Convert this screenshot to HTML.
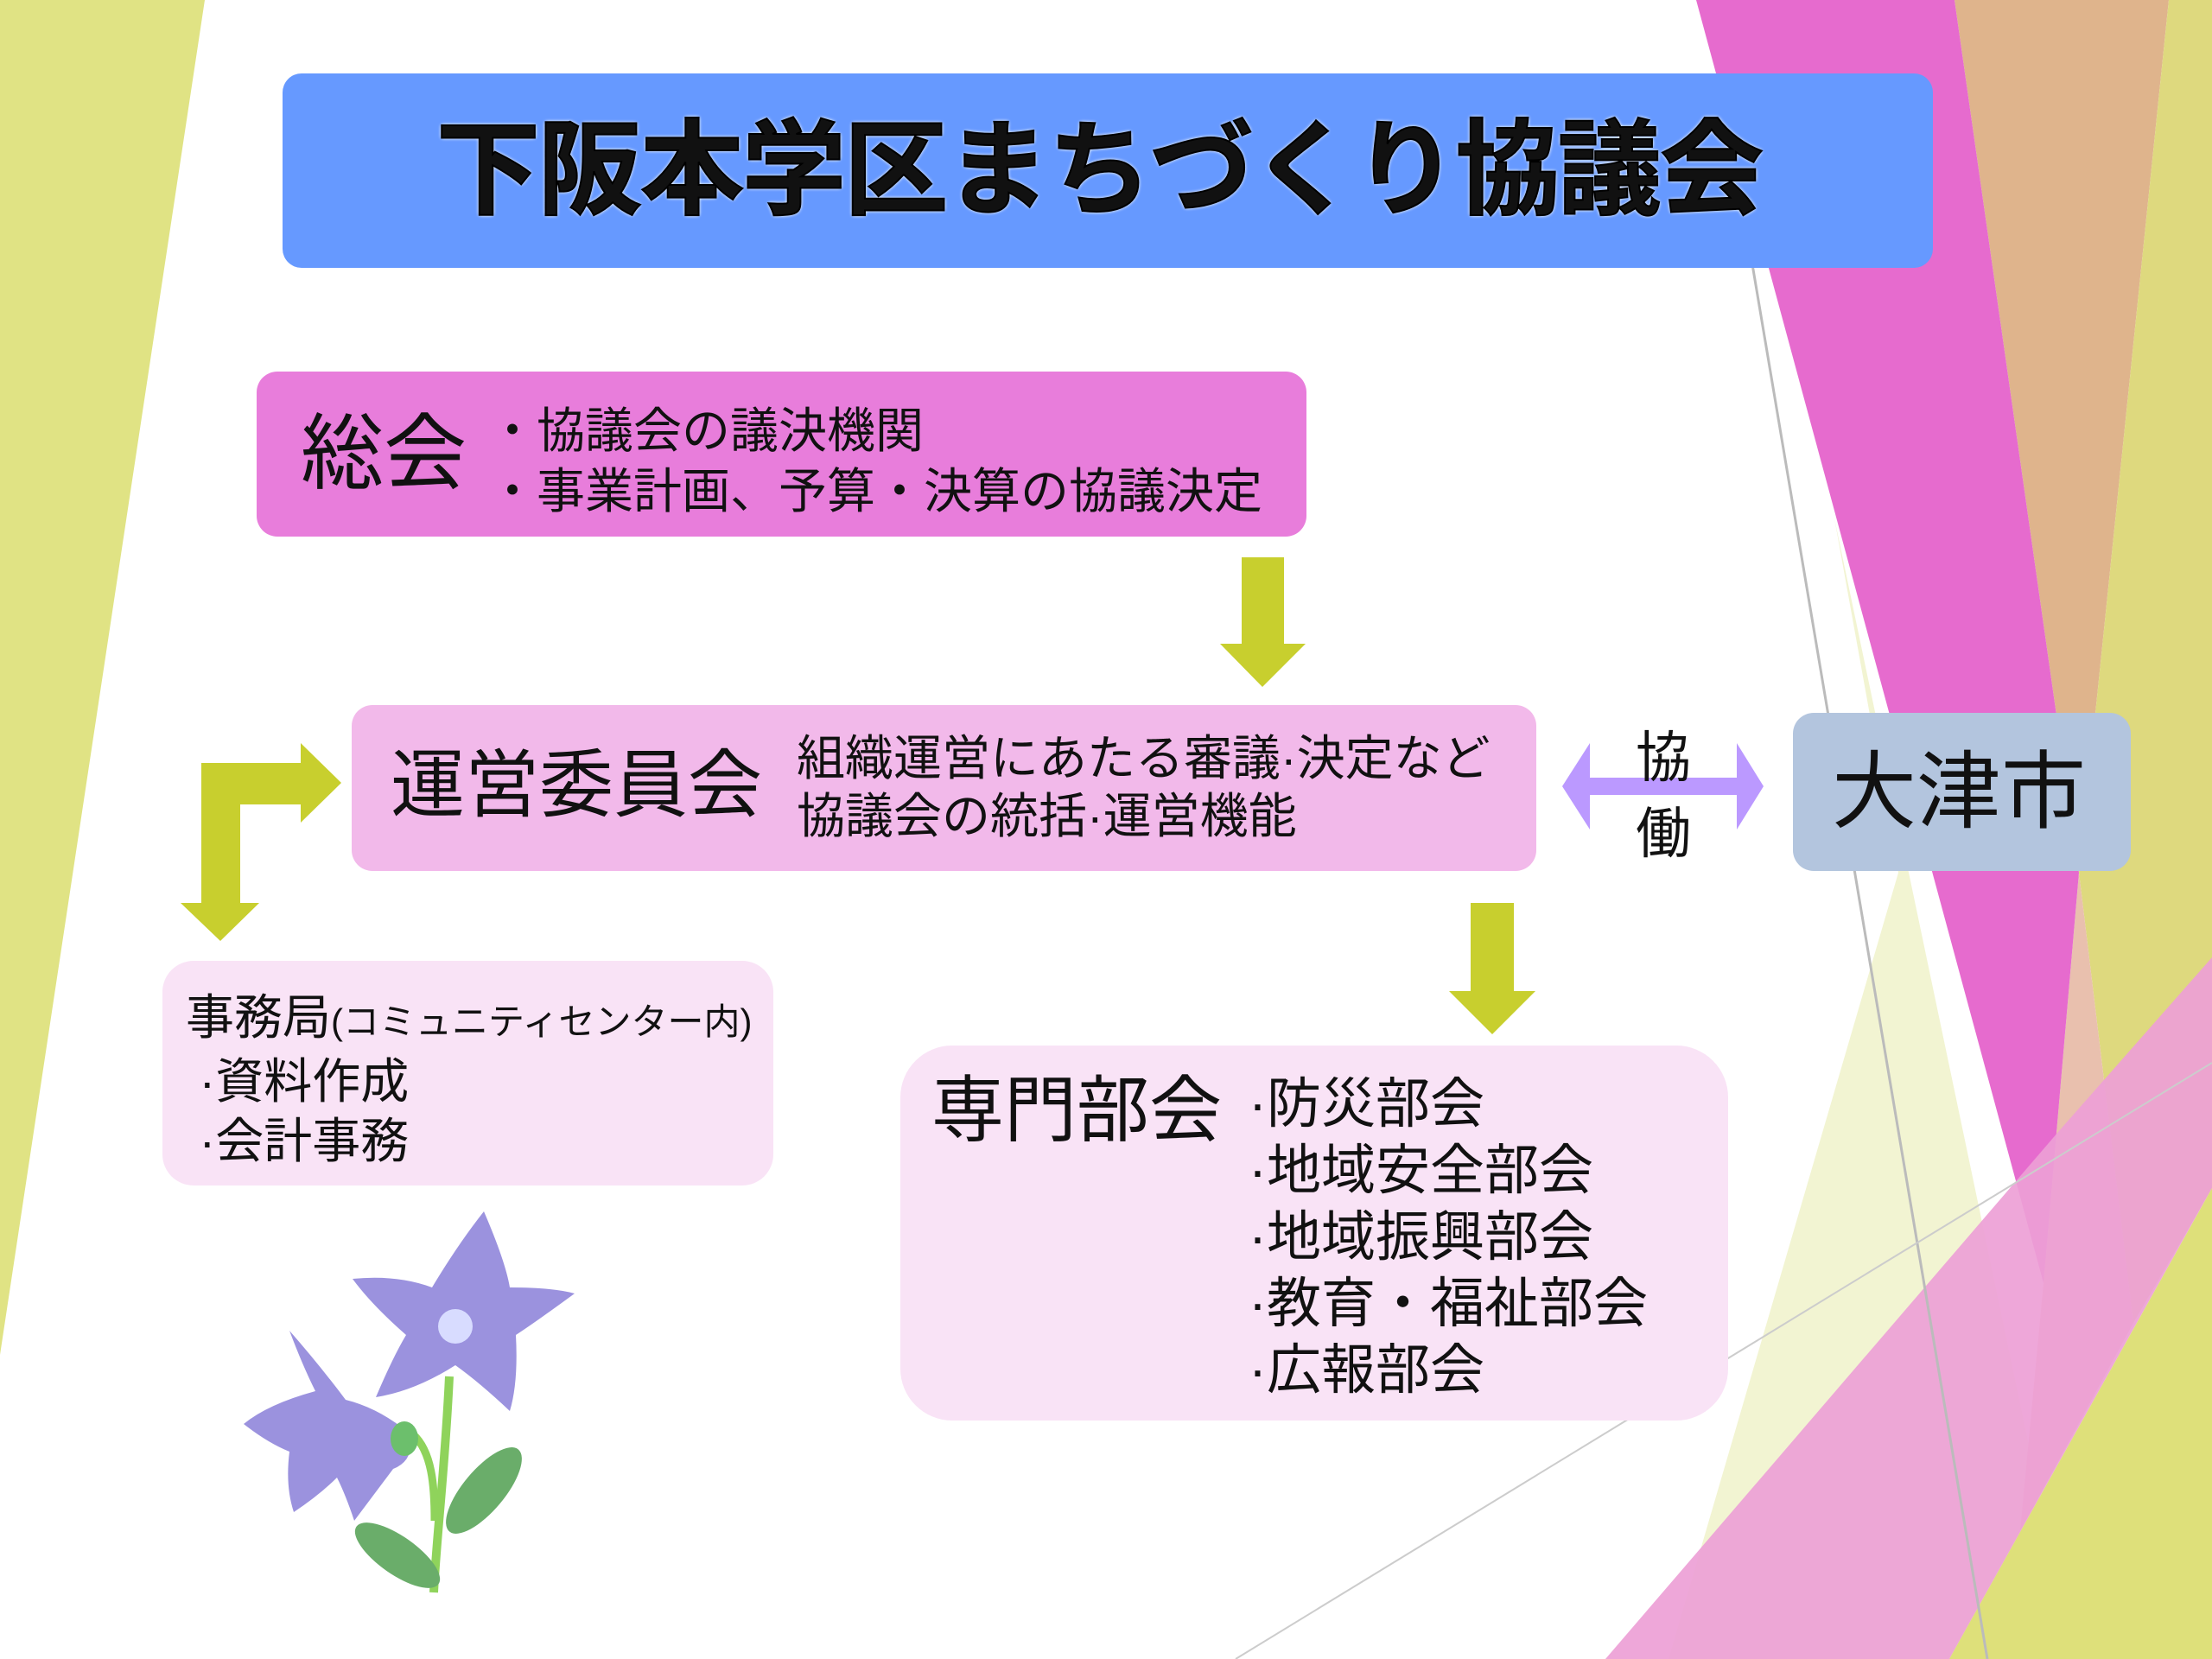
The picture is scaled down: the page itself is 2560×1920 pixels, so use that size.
<!DOCTYPE html>
<html><head><meta charset="utf-8"><style>
html,body{margin:0;padding:0}
body{width:2560px;height:1920px;position:relative;overflow:hidden;background:#fff;font-family:"Liberation Sans","Noto Sans CJK JP",sans-serif;color:#111}
.b{position:absolute;box-sizing:border-box}
.t{position:absolute;white-space:nowrap;line-height:1}
</style></head><body>
<svg class="b" style="left:0;top:0" width="2560" height="1920">
<polygon points="0,0 237,0 0,1568" fill="#e0e384"/>
<polygon points="2123,600 2400,1920 1931,1920 2197,1010" fill="#f2f4d2"/>
<polygon points="2262,0 2510,0 2406,1010" fill="#dfb48c"/>
<polygon points="2510,0 2560,0 2560,1375 2469,1531 2406,1010" fill="#ded97e"/>
<polygon points="2406,1010 2469,1531 2338,1772 2365,1485" fill="#e9c0ae"/>
<polygon points="1963,0 2262,0 2406,1010 2365,1485" fill="#e66bce"/>
<polygon points="1858,1920 2382,1310 2560,1108 2560,1375 2256,1920" fill="#eda0d6" fill-opacity="0.92"/>
<polygon points="2256,1920 2560,1375 2560,1920" fill="#dee07a"/>
<line x1="2027" y1="300" x2="2300" y2="1920" stroke="#bbb" stroke-width="3"/>
<line x1="1430" y1="1920" x2="2560" y2="1230" stroke="#ccc" stroke-width="2"/>
<polygon points="1437,645 1486,645 1486,745 1511,745 1461,795 1412,745 1437,745" fill="#c8cf2e"/>
<polygon points="1702,1045 1752,1045 1752,1147 1777,1147 1727,1197 1677,1147 1702,1147" fill="#c8cf2e"/>
<polygon points="233,883 348,883 348,860 395,906 348,952 348,931 278,931 278,1045 300,1045 255,1089 209,1045 233,1045" fill="#c8cf2e"/>
<polygon points="1808,910 1840,860 1840,900 2010,900 2010,860 2041,910 2010,960 2010,920 1840,920 1840,960" fill="#bb99ff"/>
<g>
<path d="M520,1593 C515,1700 505,1780 502,1843" stroke="#8fd35b" stroke-width="10" fill="none"/>
<path d="M478,1660 C500,1680 503,1720 503,1760" stroke="#8fd35b" stroke-width="9" fill="none"/>
<ellipse cx="560" cy="1725" rx="24" ry="62" transform="rotate(40 560 1725)" fill="#6aad6a"/>
<ellipse cx="460" cy="1800" rx="22" ry="58" transform="rotate(-55 460 1800)" fill="#6aad6a"/>
<path d="M560,1402 Q585,1460 590,1490 Q640,1490 665,1497 Q620,1530 597,1545 Q600,1600 590,1633 Q555,1600 527,1580 Q480,1610 435,1617 Q455,1570 470,1545 Q430,1510 408,1480 Q460,1475 500,1490 Q530,1440 560,1402Z" fill="#9b92de"/>
<circle cx="527" cy="1535" r="20" fill="#d8dcff"/>
<path d="M335,1540 Q350,1580 365,1610 Q310,1625 282,1648 Q310,1670 335,1680 Q330,1720 340,1750 Q370,1730 390,1710 Q400,1730 410,1760 Q440,1720 455,1700 Q480,1690 475,1660 Q440,1630 400,1620 Q370,1580 335,1540Z" fill="#9b92de"/>
<ellipse cx="468" cy="1665" rx="16" ry="20" fill="#6cbf6c"/>
</g>
</svg>
<div class="b" style="left:327px;top:85px;width:1910px;height:225px;background:#6699ff;border-radius:22px"></div>
<div class="t" style="left:505px;top:137px;font-size:120px;font-weight:bold;letter-spacing:-2px;-webkit-text-stroke:2px #000;text-shadow:0 0 4px #fff,0 0 4px #fff">下阪本学区まちづくり協議会</div>

<div class="b" style="left:297px;top:430px;width:1215px;height:191px;background:#e87ddb;border-radius:24px"></div>
<div class="t" style="left:348px;top:478px;font-size:96px">総会</div>
<div class="t" style="left:565px;top:464px;font-size:56px;line-height:70px">・協議会の議決機関<br>・事業計画、予算・決算の協議決定</div>

<div class="b" style="left:407px;top:816px;width:1371px;height:192px;background:#f2b9ea;border-radius:24px"></div>
<div class="t" style="left:452px;top:866px;font-size:86px">運営委員会</div>
<div class="t" style="left:922px;top:844px;font-size:56px;line-height:67px">組織運営にあたる審議·決定など<br>協議会の統括·運営機能</div>

<div class="t" style="left:1893px;top:833px;font-size:64px;line-height:88px">協<br>働</div>
<div class="b" style="left:2075px;top:825px;width:391px;height:183px;background:#b3c5de;border-radius:24px"></div>
<div class="t" style="left:2120px;top:867px;font-size:98px">大津市</div>

<div class="b" style="left:188px;top:1112px;width:707px;height:260px;background:#f9e3f6;border-radius:36px"></div>
<div class="t" style="left:215px;top:1143px;font-size:56px;line-height:69px">事務局<span style="font-size:42px">(コミュニティセンター内)</span><br>&nbsp;·資料作成<br>&nbsp;·会計事務</div>

<div class="b" style="left:1042px;top:1210px;width:958px;height:434px;background:#f9e3f6;border-radius:60px"></div>
<div class="t" style="left:1078px;top:1243px;font-size:84px">専門部会</div>
<div class="t" style="left:1445px;top:1240px;font-size:63px;line-height:77px">·防災部会<br>·地域安全部会<br>·地域振興部会<br>·教育・福祉部会<br>·広報部会</div>
</body></html>
